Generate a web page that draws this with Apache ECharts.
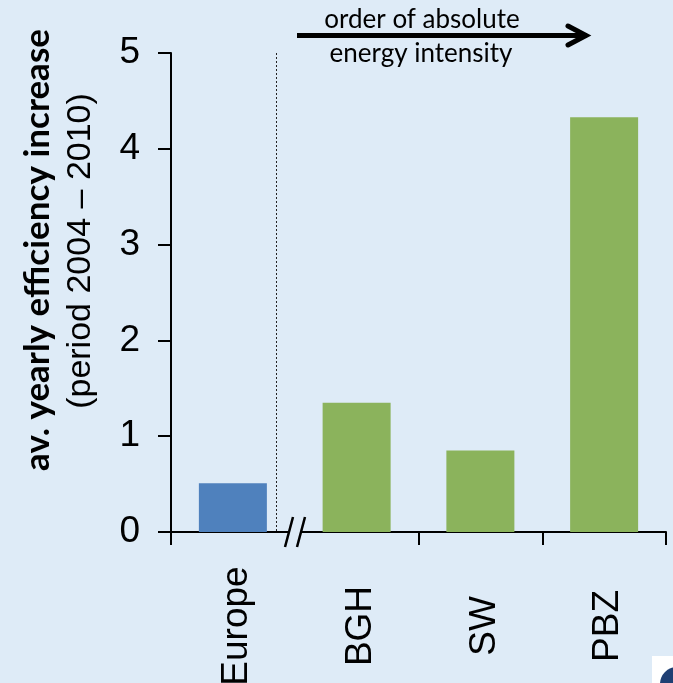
<!DOCTYPE html>
<html>
<head>
<meta charset="utf-8">
<style>html,body{margin:0;padding:0;background:#deebf7;}#chart{width:673px;height:683px;}</style>
<script src="https://cdn.jsdelivr.net/npm/echarts@6/dist/echarts.min.js"></script>
</head>
<body>
<div id="chart"></div>
<script>
const categories = ['Europe', 'BGH', 'SW', 'PBZ'];
const values = [0.51, 1.35, 0.85, 4.33];
const barColors = ['#4f81bd', '#8bb35c', '#8bb35c', '#8bb35c'];
const bgColor = '#deebf7';

const chart = echarts.init(document.getElementById('chart'));

chart.setOption({
  backgroundColor: bgColor,
  animation: false,
  grid: { left: 171, right: 7, top: 53, height: 479, outerBoundsMode: 'none' },
  xAxis: {
    type: 'category',
    data: categories,
    axisLine: { lineStyle: { color: '#000', width: 2 } },
    axisTick: {
      show: true,
      length: 13,
      lineStyle: { color: '#000', width: 2 }
    },
    axisLabel: {
      rotate: 90,
      align: 'center',
      verticalAlign: 'middle',
      margin: 94,
      interval: 0,
      formatter: v => '{l|' + v + '}',
      rich: {
        l: {
          padding: [8, 0, 0, 0],
          color: '#000',
          fontFamily: 'Liberation Sans',
          fontSize: 37
        }
      }
    }
  },
  yAxis: {
    type: 'value',
    min: 0,
    max: 5,
    interval: 1,
    splitLine: { show: false },
    axisLine: { show: true, lineStyle: { color: '#000', width: 2 } },
    axisTick: { show: true, length: 13, lineStyle: { color: '#000', width: 2 } },
    axisLabel: {
      margin: 31,
      color: '#000',
      fontFamily: 'Liberation Sans',
      fontSize: 37
    }
  },
  series: [{
    type: 'bar',
    barWidth: 68,
    data: values.map((v, i) => ({ value: v, itemStyle: { color: barColors[i] } }))
  }],
  graphic: [
    // dotted separator
    { type: 'line', shape: { x1: 276.5, y1: 53, x2: 276.5, y2: 532 }, style: { stroke: '#222', lineWidth: 1, lineDash: [2, 2] } },
    // axis break: hides the tick and the line between the slashes
    { type: 'rect', z: 100, shape: { x: 290, y: 528, width: 10, height: 20 }, style: { fill: bgColor } },
    { type: 'line', z: 101, shape: { x1: 285, y1: 547, x2: 293, y2: 517 }, style: { stroke: '#000', lineWidth: 2.5 } },
    { type: 'line', z: 101, shape: { x1: 297, y1: 547, x2: 305, y2: 517 }, style: { stroke: '#000', lineWidth: 2.5 } },
    // arrow
    { type: 'line', shape: { x1: 297, y1: 35.5, x2: 587, y2: 35.5 }, style: { stroke: '#000', lineWidth: 5 } },
    { type: 'polyline', shape: { points: [[568, 26], [586, 35.5], [568, 45]] }, style: { stroke: '#000', fill: 'none', lineWidth: 5, lineCap: 'round' } },
    { type: 'text', x: 422, y: 20, style: { text: 'order of absolute', font: '26px Lato', fill: '#000', align: 'center', verticalAlign: 'middle' } },
    { type: 'text', x: 421, y: 54, style: { text: 'energy intensity', font: '26px Lato', fill: '#000', align: 'center', verticalAlign: 'middle' } },
    // y axis title
    { type: 'text', x: 38, y: 250, rotation: Math.PI / 2, style: { text: 'av. yearly efficiency increase', font: 'bold 35px Lato', fill: '#000', align: 'center', verticalAlign: 'middle' } },
    { type: 'text', x: 81, y: 251, rotation: Math.PI / 2, style: { text: '(period 2004 \u2013 2010)', font: '34px "Liberation Sans"', fill: '#000', align: 'center', verticalAlign: 'middle' } },
    // logo corner
    { type: 'rect', z: 100, shape: { x: 652, y: 656, width: 21, height: 27 }, style: { fill: '#fff' } },
    { type: 'circle', z: 101, shape: { cx: 677, cy: 684, r: 17 }, style: { fill: '#1f3f73' } }
  ]
});
</script>
</body>
</html>
